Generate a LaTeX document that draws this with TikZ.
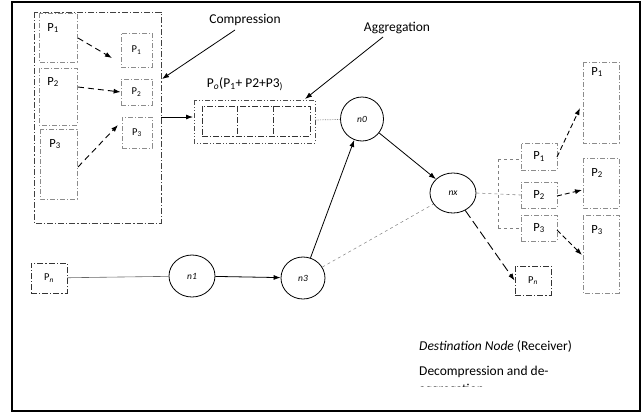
\documentclass[tikz,border=0pt]{standalone}
\usepackage{fontspec}
\setmainfont{Carlito}
\usetikzlibrary{arrows.meta,shapes.geometric}
\newcommand{\Pk}[1]{P\textsubscript{#1}}
\begin{document}
\begin{tikzpicture}[x=1pt,y=-1pt,
  gbox/.style={draw=gray!90,line width=0.7pt,dash pattern=on 5pt off 2pt on 1pt off 2pt},
  bbox/.style={draw=black!80,line width=0.9pt,dash pattern=on 6pt off 2pt on 1.2pt off 2pt},
  netnode/.style={draw,ellipse,line width=0.8pt,inner sep=0pt,font=\itshape\fontsize{9.5}{10}\selectfont},
  dar/.style={-{Latex[length=7pt,width=5pt]},line width=0.9pt,dash pattern=on 6pt off 4pt},
  sar/.style={-{Latex[length=7pt,width=5pt]},line width=0.8pt},
  lbl/.style={font=\fontsize{13.5}{15}\selectfont,inner sep=0pt},
  plbl/.style={font=\fontsize{12.5}{14}\selectfont,inner sep=0pt},
  slbl/.style={font=\fontsize{10.5}{12}\selectfont,inner sep=0pt}]
\useasboundingbox (0,0) rectangle (642,413);
\draw[line width=1.8pt] (12,2) rectangle (640,411);

% left big group
\draw[bbox,draw=black!75] (34,12) rectangle (161,223);
\coordinate (bigR) at (161,117);
\coordinate (bigC) at (162,79);
\draw[gbox] (39,13) rectangle (77,62);
\draw[gbox] (39,68) rectangle (77,125);
\draw[gbox] (40,129) rectangle (77,199);
\node[plbl] (lp1) at (53,28) {\Pk{1}};
\node[plbl] (lp2) at (53,82) {\Pk{2}};
\node[plbl] (lp3) at (55,144) {\Pk{3}};
\coordinate (b1) at (78,38);
\coordinate (b2) at (78,87);
\coordinate (b3) at (78,167);
\node[gbox,slbl,minimum width=31pt,minimum height=34pt] (s1) at (136.5,50) {\Pk{1}};
\node[gbox,slbl,minimum width=31pt,minimum height=26pt] (s2) at (136.5,92) {\Pk{2}};
\node[gbox,slbl,minimum width=30pt,minimum height=31pt] (s3) at (137,132.5) {\Pk{3}};
\draw[dar] (b1) -- (112,58);
\draw[dar] (b2) -- (s2.west);
\draw[dar] (b3) -- (118,125);

% compression label
\node[lbl] (comp) at (245,20) {Compression};
\draw[sar] (235,30) -- (bigC);

% aggregation box
\node[lbl] (aggr) at (397,28) {Aggregation};
\node[lbl] (po) at (245,84) {P\textsubscript{\textit{o}}(\Pk{1}+ P2+P3\textsubscript{)}};
\draw[gbox,draw=black!70,dash pattern=on 5pt off 2pt on 1pt off 2pt on 1pt off 2pt] (194,100) rectangle (315,143);
\node[bbox,minimum width=108pt,minimum height=30pt,inner sep=0pt] (agg) at (256,121) {};
\draw[bbox] (237,106) -- (237,136);
\draw[bbox] (273,106) -- (273,136);
\coordinate (aggL) at (193,117);
\coordinate (aggR) at (315,120);
\draw[sar] (bigR) -- (aggL);
\draw[sar] (383,37) -- (305,99);

% network nodes
\node[netnode,minimum width=43pt,minimum height=44pt] (n0) at (362,119) {n0};
\node[netnode,minimum width=46pt,minimum height=42pt] (n1) at (192,276) {n1};
\node[netnode,minimum width=44pt,minimum height=42pt] (n3) at (303,278) {n3};
\node[netnode,minimum width=46pt,minimum height=40pt] (nx) at (453,193) {nx};
\node[bbox,slbl,minimum width=36pt,minimum height=30pt] (pnl) at (49,278) {P\textsubscript{\textit{n}}};

\draw[densely dotted,gray,line width=0.7pt] (aggR) -- (n0);
\draw[gray!80!black,line width=0.6pt] (pnl) -- (n1);
\draw[sar] (n1) -- (n3);
\draw[sar] (n3) -- (n0);
\draw[sar] (n0) -- (nx);
\draw[gray,dashed,line width=0.5pt] (n3) -- (nx);

% right side
\node[bbox,slbl,minimum width=36pt,minimum height=29pt] (pnr) at (533,280.5) {P\textsubscript{\textit{n}}};
\draw[dar,dash pattern=on 9pt off 4pt] (nx) -- (pnr.west);
\node[gbox,plbl,minimum width=36pt,minimum height=27pt] (r1) at (539,156.5) {\Pk{1}};
\node[gbox,plbl,minimum width=36pt,minimum height=26pt] (r2) at (539,195) {\Pk{2}};
\node[gbox,plbl,minimum width=36pt,minimum height=26pt] (r3) at (539,228) {\Pk{3}};
\coordinate (brk) at (498,193);
\draw[gray,dashed,line width=0.6pt] (nx.east) -- (r2.west);
\draw[gray,dashed,line width=0.6pt] (498,159) -- (498,228);
\draw[gray,dashed,line width=0.6pt] (498,159) -- (r1.west |- 498,159);
\draw[gray,dashed,line width=0.6pt] (498,228) -- (r3.west);
\draw[gbox] (583,62) rectangle (619,143);
\draw[gbox] (583,158) rectangle (619,208);
\draw[gbox] (583,215) rectangle (619,293);
\node[plbl] (q1) at (597,72) {\Pk{1}};
\node[plbl] (q2) at (597,173) {\Pk{2}};
\node[plbl] (q3) at (597,230) {\Pk{3}};
\draw[dar,dash pattern=on 5pt off 3pt] (557,157) -- (580,108);
\draw[dar,dash pattern=on 5pt off 3pt] (557,196) -- (582,190);
\draw[dar,dash pattern=on 5pt off 3pt] (557,230) -- (582,255);

% bottom texts
\node[lbl,anchor=west] (dest) at (419,346) {\textit{Destination Node} (Receiver)};
\node[lbl,anchor=west] (dec) at (419,372) {Decompression and de-};
\begin{scope}
\clip (410,382) rectangle (600,386.5);
\node[lbl,anchor=west] (agt) at (419,390.3) {aggregation};
\end{scope}
\end{tikzpicture}
\end{document}
